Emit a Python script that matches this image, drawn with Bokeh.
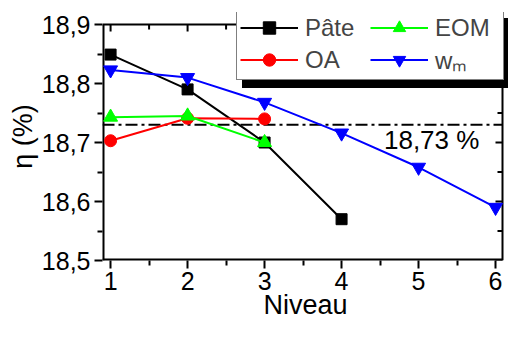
import math
from bokeh.plotting import figure
from bokeh.models import (Range1d, FixedTicker, Legend, LegendItem,
                          Label, CustomJSTickFormatter)
from bokeh.embed import file_html
from bokeh.resources import INLINE

# ---- data ----
niveau_pate = [1, 2, 3, 4]
pate = [18.849, 18.790, 18.700, 18.570]
niveau_oa = [1, 2, 3]
oa = [18.703, 18.741, 18.740]
niveau_eom = [1, 2, 3]
eom = [18.743, 18.745, 18.700]
niveau_wm = [1, 2, 3, 4, 5, 6]
wm = [18.823, 18.810, 18.768, 18.716, 18.658, 18.590]
reference = 18.73
reference_label = "18,73 %"
series_labels = ["Pâte", "OA", "EOM", "wₘ"]
x_ticks = [1, 2, 3, 4, 5, 6]
x_minor = [1.5, 2.5, 3.5, 4.5, 5.5]
y_ticks = [18.5, 18.6, 18.7, 18.8, 18.9]
y_minor = [18.55, 18.65, 18.75, 18.85]

FONT = "Liberation Sans"
W, H = 508, 322
B_LEFT, B_RIGHT, B_TOP, B_BOTTOM = 102, 0, 12, 62
TOP_GAP = 12    # px above the drawn box (the legend overlaps the box edge)
RIGHT_GAP = 6   # px right of the drawn box (room for the legend shadow)
X0, X1 = 0.895, 6.09
Y0, Y1 = 18.5, 18.9
frame_w = W - B_LEFT - B_RIGHT
frame_h = H - B_TOP - B_BOTTOM
X_END = X0 + (X1 - X0) * frame_w / (frame_w - RIGHT_GAP)
Y_END = Y0 + (Y1 - Y0) * frame_h / (frame_h - TOP_GAP)

p = figure(width=W, height=H, output_backend="svg", toolbar_location=None,
           x_range=Range1d(X0, X_END), y_range=Range1d(Y0, Y_END),
           min_border_left=B_LEFT, min_border_right=B_RIGHT,
           min_border_top=B_TOP, min_border_bottom=B_BOTTOM,
           x_axis_label="Niveau", y_axis_label="η (%)")
p.grid.visible = False
p.outline_line_color = None
p.background_fill_color = "white"
p.border_fill_color = "white"

fmt = CustomJSTickFormatter(code="return tick.toFixed(1).replace('.', ',')")

xa = p.xaxis[0]
xa.ticker = FixedTicker(ticks=x_ticks, minor_ticks=x_minor)
ya = p.yaxis[0]
ya.ticker = FixedTicker(ticks=y_ticks, minor_ticks=y_minor)
ya.formatter = fmt
for ax in (xa, ya):
    ax.axis_line_color = None
    ax.major_tick_line_width = 2
    ax.minor_tick_line_width = 2
    ax.major_tick_in = 0
    ax.major_tick_out = 8
    ax.minor_tick_in = 0
    ax.minor_tick_out = 5
    ax.major_label_text_font = FONT
    ax.major_label_text_font_size = "25px"
    ax.major_label_text_color = "black"
    ax.axis_label_text_font = FONT
    ax.axis_label_text_font_size = "27px"
    ax.axis_label_text_font_style = "normal"
    ax.axis_label_text_color = "black"
xa.major_label_standoff = 3
xa.axis_label_standoff = -3
ya.major_label_standoff = 4
ya.axis_label_standoff = 1

# drawn box (edges on the frame border are twice as wide, half is clipped)
p.line([X0, X0], [Y0, Y1], line_color="black", line_width=4)
p.line([X0, X1], [Y0, Y0], line_color="black", line_width=4)
p.line([X1, X1], [Y0, Y1], line_color="black", line_width=2)
p.line([X0, X1], [Y1, Y1], line_color="black", line_width=2)

# mirrored inward ticks on top and right edges
p.ray(x_ticks, [Y1] * len(x_ticks), length=7, length_units="screen", angle=-math.pi / 2,
      line_color="black", line_width=2)
p.ray(x_minor, [Y1] * len(x_minor), length=5, length_units="screen", angle=-math.pi / 2,
      line_color="black", line_width=2)
p.ray([X1] * len(y_ticks), y_ticks, length=7, length_units="screen", angle=math.pi,
      line_color="black", line_width=2)
p.ray([X1] * len(y_minor), y_minor, length=5, length_units="screen", angle=math.pi,
      line_color="black", line_width=2)

# reference line and its label
p.line([X0, X1], [reference, reference], line_color="black", line_width=2,
       line_dash="12 4 3 4")
p.add_layout(Label(x=5.17, y=18.705, text=reference_label, text_font=FONT,
                   text_font_size="26px", text_color="black",
                   text_align="center", text_baseline="middle"))

r_pate = [p.line(niveau_pate, pate, line_color="black", line_width=2),
          p.scatter(niveau_pate, pate, marker="square", size=11, fill_color="black", line_color="black")]
r_oa = [p.line(niveau_oa, oa, line_color="#ff0000", line_width=2),
        p.scatter(niveau_oa, oa, marker="circle", size=12, fill_color="#ff0000", line_color="#ff0000")]
r_eom = [p.line(niveau_eom, eom, line_color="#00ff00", line_width=2),
         p.scatter(niveau_eom, eom, marker="triangle", size=14, fill_color="#00ff00", line_color="#00ff00")]
r_wm = [p.line(niveau_wm, wm, line_color="#0000ff", line_width=2),
        p.scatter(niveau_wm, wm, marker="inverted_triangle", size=14, fill_color="#0000ff", line_color="#0000ff")]

# ---- legend (2 columns) with a black drop shadow ----
LEG_W, LEG_H = 266, 68
LEG_X = frame_w - RIGHT_GAP - LEG_W
LEG_Y = frame_h - LEG_H
legend_style = dict(ncols=2, label_text_font=FONT, label_text_font_size="24px",
                    glyph_width=58, glyph_height=31, label_standoff=7, label_width=65,
                    spacing=0, padding=3, margin=0, border_line_width=1)

shadow_items = []
for mk in ["square", "circle", "triangle", "inverted_triangle"]:
    shadow_items.append(LegendItem(label=" ", renderers=[
        p.line([], [], line_color="black"),
        p.scatter([], [], marker=mk, color="black")]))
shadow = Legend(items=shadow_items, location=(LEG_X + 6, LEG_Y - 8),
                border_line_color="black", background_fill_color="black",
                background_fill_alpha=1, label_text_color="black", **legend_style)
p.add_layout(shadow)

legend = Legend(items=[LegendItem(label=series_labels[0], renderers=r_pate),
                       LegendItem(label=series_labels[1], renderers=r_oa),
                       LegendItem(label=series_labels[2], renderers=r_eom),
                       LegendItem(label=series_labels[3], renderers=r_wm)],
                location=(LEG_X, LEG_Y),
                border_line_color="black", background_fill_color="white",
                background_fill_alpha=1, **legend_style)
p.add_layout(legend)

open("out.html", "w").write(file_html(p, INLINE))
